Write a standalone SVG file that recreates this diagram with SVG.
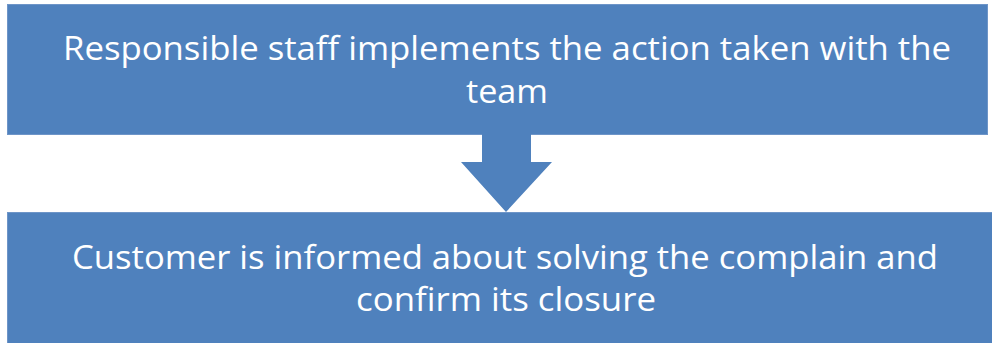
<svg xmlns="http://www.w3.org/2000/svg" width="992" height="343" viewBox="0 0 992 343">
<style>
.box{fill:#4F81BD;stroke:#6E95C8;stroke-width:1}
.t{font-family:"Open Sans","Noto Sans",sans-serif;font-size:32px;fill:#FFFFFF;text-anchor:middle}
</style>
<rect width="992" height="343" fill="#FFFFFF"/>
<g id="node1">
<rect class="box" x="7.5" y="4.5" width="980" height="130"/>
<text class="t" x="507" y="60" textLength="888" lengthAdjust="spacingAndGlyphs">Responsible staff implements the action taken with the</text>
<text class="t" x="507" y="103" textLength="82" lengthAdjust="spacingAndGlyphs">team</text>
</g>
<g id="connectors">
<polygon points="482,134 531,134 531,162 552,162 506,212 461,162 482,162" fill="#4F81BD"/>
</g>
<g id="node2">
<rect class="box" x="7.5" y="212.5" width="990" height="140"/>
<text class="t" x="505" y="269" textLength="866" lengthAdjust="spacingAndGlyphs">Customer is informed about solving the complain and</text>
<text class="t" x="506" y="311" textLength="300" lengthAdjust="spacingAndGlyphs">confirm its closure</text>
</g>
</svg>
